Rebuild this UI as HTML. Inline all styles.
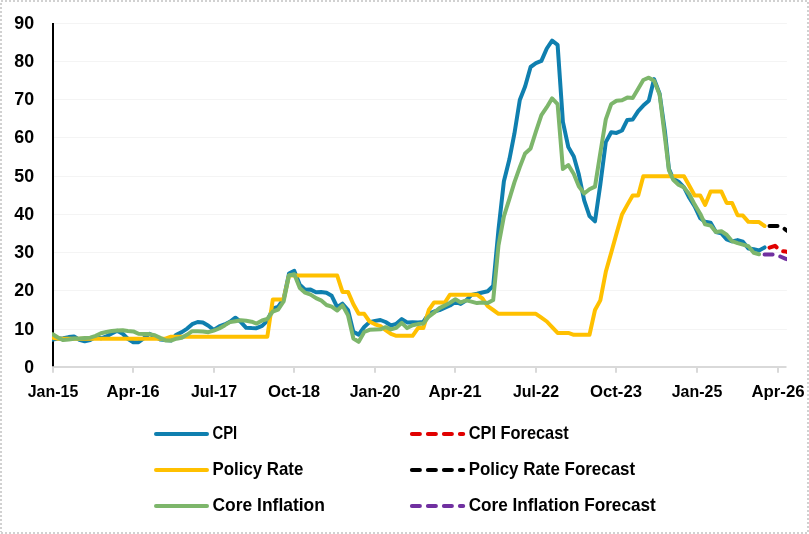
<!DOCTYPE html>
<html lang="en"><head><meta charset="utf-8"><title>CPI, Policy Rate and Core Inflation</title>
<style>
html,body{margin:0;padding:0;background:#fff;}
body{width:809px;height:534px;overflow:hidden;position:relative;font-family:"Liberation Sans",sans-serif;}
</style></head><body>
<svg width="809" height="534" viewBox="0 0 809 534" style="position:absolute;left:0;top:0;display:block">
<rect x="0" y="0" width="809" height="534" fill="#fff"/>
<g stroke="#d1d1d1" stroke-width="2" stroke-dasharray="2 2" fill="none">
<line x1="1" y1="1" x2="808" y2="1"/><line x1="1" y1="533" x2="808" y2="533"/>
<line x1="1" y1="3" x2="1" y2="532"/><line x1="808" y1="2" x2="808" y2="532"/>
</g>
<g stroke="#f4f4f4" stroke-width="1">
<line x1="54" y1="329.5" x2="786.9" y2="329.5"/>
<line x1="54" y1="290.5" x2="786.9" y2="290.5"/>
<line x1="54" y1="252.5" x2="786.9" y2="252.5"/>
<line x1="54" y1="214.5" x2="786.9" y2="214.5"/>
<line x1="54" y1="176.5" x2="786.9" y2="176.5"/>
<line x1="54" y1="137.5" x2="786.9" y2="137.5"/>
<line x1="54" y1="99.5" x2="786.9" y2="99.5"/>
<line x1="54" y1="61.5" x2="786.9" y2="61.5"/>
<line x1="54" y1="23.5" x2="786.9" y2="23.5"/>
</g>
<g stroke="#d9d9d9" stroke-width="2">
<line x1="52" y1="367" x2="786.5" y2="367"/>
<line x1="53.0" y1="367" x2="53.0" y2="372.8"/>
<line x1="133.0" y1="367" x2="133.0" y2="372.8"/>
<line x1="214.0" y1="367" x2="214.0" y2="372.8"/>
<line x1="294.0" y1="367" x2="294.0" y2="372.8"/>
<line x1="375.0" y1="367" x2="375.0" y2="372.8"/>
<line x1="455.0" y1="367" x2="455.0" y2="372.8"/>
<line x1="536.0" y1="367" x2="536.0" y2="372.8"/>
<line x1="616.0" y1="367" x2="616.0" y2="372.8"/>
<line x1="697.0" y1="367" x2="697.0" y2="372.8"/>
<line x1="778.0" y1="367" x2="778.0" y2="372.8"/>
</g>
<line x1="53" y1="22.9" x2="53" y2="366.2" stroke="#000" stroke-width="2"/>
<defs><clipPath id="plot"><rect x="52" y="15" width="734.9" height="360"/></clipPath></defs>
<g fill="none" stroke-width="4" stroke-linejoin="round" stroke-linecap="round" clip-path="url(#plot)">
<polyline stroke="#0F7FAF" points="52.8,339.6 58.3,338.5 63.2,338.2 68.7,337.1 74.0,336.4 79.4,339.8 84.7,341.3 90.2,340.0 95.7,336.9 101.0,338.3 106.4,336.4 111.7,333.6 117.2,330.7 122.7,333.8 127.8,338.8 133.3,342.2 138.5,342.2 144.0,338.1 149.3,333.7 154.8,336.5 160.2,339.5 165.5,339.9 171.0,340.6 176.3,334.7 181.8,332.1 187.2,328.6 192.2,324.2 197.7,322.0 202.9,322.5 208.4,325.7 213.7,329.9 219.2,326.5 224.6,324.5 229.9,321.8 235.4,317.7 240.7,321.8 246.2,327.8 251.6,328.1 256.6,328.2 262.1,325.9 267.3,320.9 272.8,308.5 278.1,306.8 283.6,298.9 289.0,273.6 294.3,270.9 299.8,284.7 305.1,289.8 310.6,289.6 316.0,292.2 321.0,292.0 326.5,292.8 331.7,295.8 337.2,307.2 342.5,303.7 348.0,310.0 353.4,331.9 358.7,334.6 364.2,327.0 369.5,322.1 375.0,320.9 380.4,320.0 385.6,322.0 391.0,325.5 396.3,323.8 401.8,319.1 407.1,322.4 412.6,322.3 418.0,322.4 423.3,321.9 428.8,313.7 434.1,311.5 439.5,310.1 445.0,307.7 450.0,305.5 455.4,301.8 460.7,303.9 466.2,300.3 471.5,294.9 477.0,293.8 482.4,292.5 487.7,291.3 493.2,285.9 498.5,229.5 503.9,181.3 509.4,159.3 514.4,133.7 519.8,100.0 525.1,86.5 530.6,67.0 535.9,63.2 541.4,60.9 546.8,48.5 552.1,40.7 557.6,44.9 562.9,121.8 568.3,147.0 573.8,156.5 578.8,174.4 584.2,200.4 589.5,216.1 595.0,221.3 600.3,184.6 605.8,142.1 611.2,132.3 616.5,132.9 622.0,130.5 627.3,119.9 632.7,119.5 638.2,111.1 643.3,105.6 648.8,100.7 654.1,79.1 659.6,93.8 664.9,131.3 668.9,168.8 673.2,178.7 678.5,181.7 684.0,187.4 689.3,197.8 694.7,206.4 700.2,218.1 705.1,221.8 710.6,222.7 715.9,232.0 721.4,233.4 726.7,239.3 732.1,241.4 737.6,240.1 742.9,241.7 748.4,248.6 753.7,249.3 759.1,250.4 764.6,247.4"/>
<polyline stroke="#FFC000" points="52.8,337.7 58.3,338.7 63.2,338.7 68.7,338.7 74.0,338.7 79.4,338.7 84.7,338.7 90.2,338.7 95.7,338.7 101.0,338.7 106.4,338.7 111.7,338.7 117.2,338.7 122.7,338.7 127.8,338.7 133.3,338.7 138.5,338.7 144.0,338.7 149.3,338.7 154.8,338.7 160.2,338.7 165.5,338.7 171.0,336.7 176.3,336.7 181.8,336.7 187.2,336.7 192.2,336.7 197.7,336.7 202.9,336.7 208.4,336.7 213.7,336.7 219.2,336.7 224.6,336.7 229.9,336.7 235.4,336.7 240.7,336.7 246.2,336.7 251.6,336.7 256.6,336.7 262.1,336.7 267.3,336.7 272.8,299.5 278.1,299.5 283.6,299.5 289.0,275.6 294.3,275.6 299.8,275.6 305.1,275.6 310.6,275.6 316.0,275.6 321.0,275.6 326.5,275.6 331.7,275.6 337.2,275.6 342.5,291.9 348.0,291.9 353.4,304.3 358.7,313.8 364.2,313.8 369.5,321.5 375.0,324.3 380.4,326.2 385.6,330.1 391.0,333.9 396.3,335.8 401.8,335.8 407.1,335.8 412.6,335.8 418.0,328.1 423.3,328.1 428.8,310.0 434.1,302.4 439.5,302.4 445.0,302.4 450.0,294.7 455.4,294.7 460.7,294.7 466.2,294.7 471.5,294.7 477.0,294.7 482.4,298.5 487.7,306.2 493.2,310.0 498.5,313.8 503.9,313.8 509.4,313.8 514.4,313.8 519.8,313.8 525.1,313.8 530.6,313.8 535.9,313.8 541.4,317.6 546.8,321.5 552.1,327.2 557.6,332.9 562.9,332.9 568.3,332.9 573.8,334.8 578.8,334.8 584.2,334.8 589.5,334.8 595.0,310.0 600.3,300.4 605.8,271.8 611.2,252.7 616.5,233.6 622.0,214.5 627.3,204.9 632.7,195.4 638.2,195.4 643.3,176.3 648.8,176.3 654.1,176.3 659.6,176.3 664.9,176.3 668.9,176.3 673.2,176.3 678.5,176.3 684.0,176.3 689.3,185.8 694.7,195.4 700.2,195.4 705.1,204.9 710.6,191.6 715.9,191.6 721.4,191.6 726.7,203.0 732.1,203.0 737.6,215.3 742.9,215.6 748.4,221.8 753.7,222.1 759.1,222.1 764.6,226.0"/>
<polyline stroke="#7DB66B" points="52.8,334.3 58.3,337.8 63.2,340.1 68.7,339.5 74.0,338.7 79.4,338.5 84.7,337.9 90.2,337.7 95.7,335.9 101.0,333.2 106.4,332.0 111.7,331.0 117.2,330.6 122.7,330.2 127.8,331.0 133.3,331.4 138.5,333.8 144.0,334.1 149.3,334.1 154.8,335.2 160.2,337.9 165.5,340.4 171.0,340.6 176.3,338.7 181.8,337.7 187.2,334.6 192.2,331.2 197.7,331.3 202.9,331.5 208.4,332.2 213.7,330.6 219.2,328.5 224.6,325.4 229.9,322.1 235.4,321.2 240.7,320.3 246.2,320.8 251.6,321.7 256.6,323.6 262.1,320.5 267.3,319.0 272.8,311.5 278.1,309.6 283.6,301.5 289.0,275.4 294.3,274.3 299.8,288.1 305.1,292.7 310.6,294.6 316.0,298.1 321.0,300.3 326.5,305.0 331.7,306.7 337.2,310.5 342.5,305.4 348.0,315.3 353.4,338.5 358.7,341.8 364.2,332.0 369.5,329.8 375.0,329.6 380.4,329.3 385.6,327.2 391.0,329.4 396.3,327.9 401.8,322.8 407.1,328.1 412.6,325.2 418.0,324.1 423.3,323.4 428.8,316.6 434.1,312.6 439.5,308.1 445.0,305.4 450.0,302.7 455.4,299.3 460.7,302.4 466.2,300.4 471.5,301.6 477.0,303.1 482.4,302.4 487.7,303.1 493.2,300.1 498.5,245.4 503.9,216.4 509.4,198.8 514.4,182.4 519.8,167.1 525.1,153.4 530.6,148.4 535.9,131.6 541.4,115.2 546.8,107.2 552.1,98.4 557.6,104.1 562.9,169.0 568.3,165.0 573.8,174.0 578.8,186.2 584.2,193.5 589.5,189.3 595.0,186.6 600.3,153.0 605.8,119.4 611.2,104.1 616.5,100.7 622.0,100.3 627.3,97.6 632.7,98.0 638.2,88.8 643.3,80.0 648.8,77.7 654.1,80.8 659.6,94.6 664.9,137.3 668.9,170.2 673.2,179.7 678.5,184.7 684.0,187.4 689.3,194.3 694.7,204.6 700.2,213.7 705.1,224.4 710.6,225.6 715.9,232.1 721.4,231.3 726.7,234.7 732.1,241.2 737.6,243.2 742.9,244.7 748.4,246.2 753.7,252.7 759.1,254.2"/>
<polyline stroke="#E00000" stroke-dasharray="8 8" points="769.5,247.7 775.0,245.8 780.3,250.8 785.8,251.6 791.1,253.1"/>
<polyline stroke="#000" stroke-dasharray="8 8" points="769.5,226.0 775.0,226.0 780.3,226.0 785.8,229.8 791.1,233.6"/>
<polyline stroke="#7030A0" stroke-dasharray="8 8" points="764.6,254.6 769.5,254.6 775.0,254.6 780.3,256.5 785.8,258.8 791.1,260.3"/>
</g>
<g font-family="'Liberation Sans', sans-serif" font-weight="bold" fill="#000">
<g font-size="17.5px" text-anchor="end">
<text x="34.1" y="373.0" textLength="9.8" lengthAdjust="spacingAndGlyphs">0</text>
<text x="34.1" y="335.0" textLength="19.8" lengthAdjust="spacingAndGlyphs">10</text>
<text x="34.1" y="296.0" textLength="19.8" lengthAdjust="spacingAndGlyphs">20</text>
<text x="34.1" y="258.0" textLength="19.8" lengthAdjust="spacingAndGlyphs">30</text>
<text x="34.1" y="220.0" textLength="19.8" lengthAdjust="spacingAndGlyphs">40</text>
<text x="34.1" y="182.0" textLength="19.8" lengthAdjust="spacingAndGlyphs">50</text>
<text x="34.1" y="143.0" textLength="19.8" lengthAdjust="spacingAndGlyphs">60</text>
<text x="34.1" y="105.0" textLength="19.8" lengthAdjust="spacingAndGlyphs">70</text>
<text x="34.1" y="67.0" textLength="19.8" lengthAdjust="spacingAndGlyphs">80</text>
<text x="34.1" y="29.0" textLength="19.8" lengthAdjust="spacingAndGlyphs">90</text>
</g>
<g font-size="17.4px" text-anchor="middle">
<text x="53.0" y="396.8" textLength="50.5" lengthAdjust="spacingAndGlyphs">Jan-15</text>
<text x="133.0" y="396.8" textLength="53.2" lengthAdjust="spacingAndGlyphs">Apr-16</text>
<text x="214.0" y="396.8" textLength="46.0" lengthAdjust="spacingAndGlyphs">Jul-17</text>
<text x="294.0" y="396.8" textLength="52.0" lengthAdjust="spacingAndGlyphs">Oct-18</text>
<text x="375.0" y="396.8" textLength="50.5" lengthAdjust="spacingAndGlyphs">Jan-20</text>
<text x="455.0" y="396.8" textLength="53.2" lengthAdjust="spacingAndGlyphs">Apr-21</text>
<text x="536.0" y="396.8" textLength="46.0" lengthAdjust="spacingAndGlyphs">Jul-22</text>
<text x="616.0" y="396.8" textLength="52.0" lengthAdjust="spacingAndGlyphs">Oct-23</text>
<text x="697.0" y="396.8" textLength="50.5" lengthAdjust="spacingAndGlyphs">Jan-25</text>
<text x="778.0" y="396.8" textLength="53.2" lengthAdjust="spacingAndGlyphs">Apr-26</text>
</g>
<g font-size="17.8px">
<line x1="156" y1="433.9" x2="207" y2="433.9" stroke="#0F7FAF" stroke-width="4" stroke-linecap="round"/>
<text x="212.5" y="439.0" textLength="24.7" lengthAdjust="spacingAndGlyphs">CPI</text>
<line x1="411.9" y1="433.9" x2="463.2" y2="433.9" stroke="#E00000" stroke-width="4" stroke-dasharray="8 8" stroke-linecap="round"/>
<text x="468.7" y="439.0" textLength="100.1" lengthAdjust="spacingAndGlyphs">CPI Forecast</text>
<line x1="156" y1="470.0" x2="207" y2="470.0" stroke="#FFC000" stroke-width="4" stroke-linecap="round"/>
<text x="212.5" y="475.1" textLength="90.8" lengthAdjust="spacingAndGlyphs">Policy Rate</text>
<line x1="411.9" y1="470.0" x2="463.2" y2="470.0" stroke="#000" stroke-width="4" stroke-dasharray="8 8" stroke-linecap="round"/>
<text x="468.7" y="475.1" textLength="166.4" lengthAdjust="spacingAndGlyphs">Policy Rate Forecast</text>
<line x1="156" y1="506.0" x2="207" y2="506.0" stroke="#7DB66B" stroke-width="4" stroke-linecap="round"/>
<text x="212.5" y="511.1" textLength="112.4" lengthAdjust="spacingAndGlyphs">Core Inflation</text>
<line x1="411.9" y1="506.0" x2="463.2" y2="506.0" stroke="#7030A0" stroke-width="4" stroke-dasharray="8 8" stroke-linecap="round"/>
<text x="468.7" y="511.1" textLength="187.1" lengthAdjust="spacingAndGlyphs">Core Inflation Forecast</text>
</g></g>
</svg>
</body></html>
